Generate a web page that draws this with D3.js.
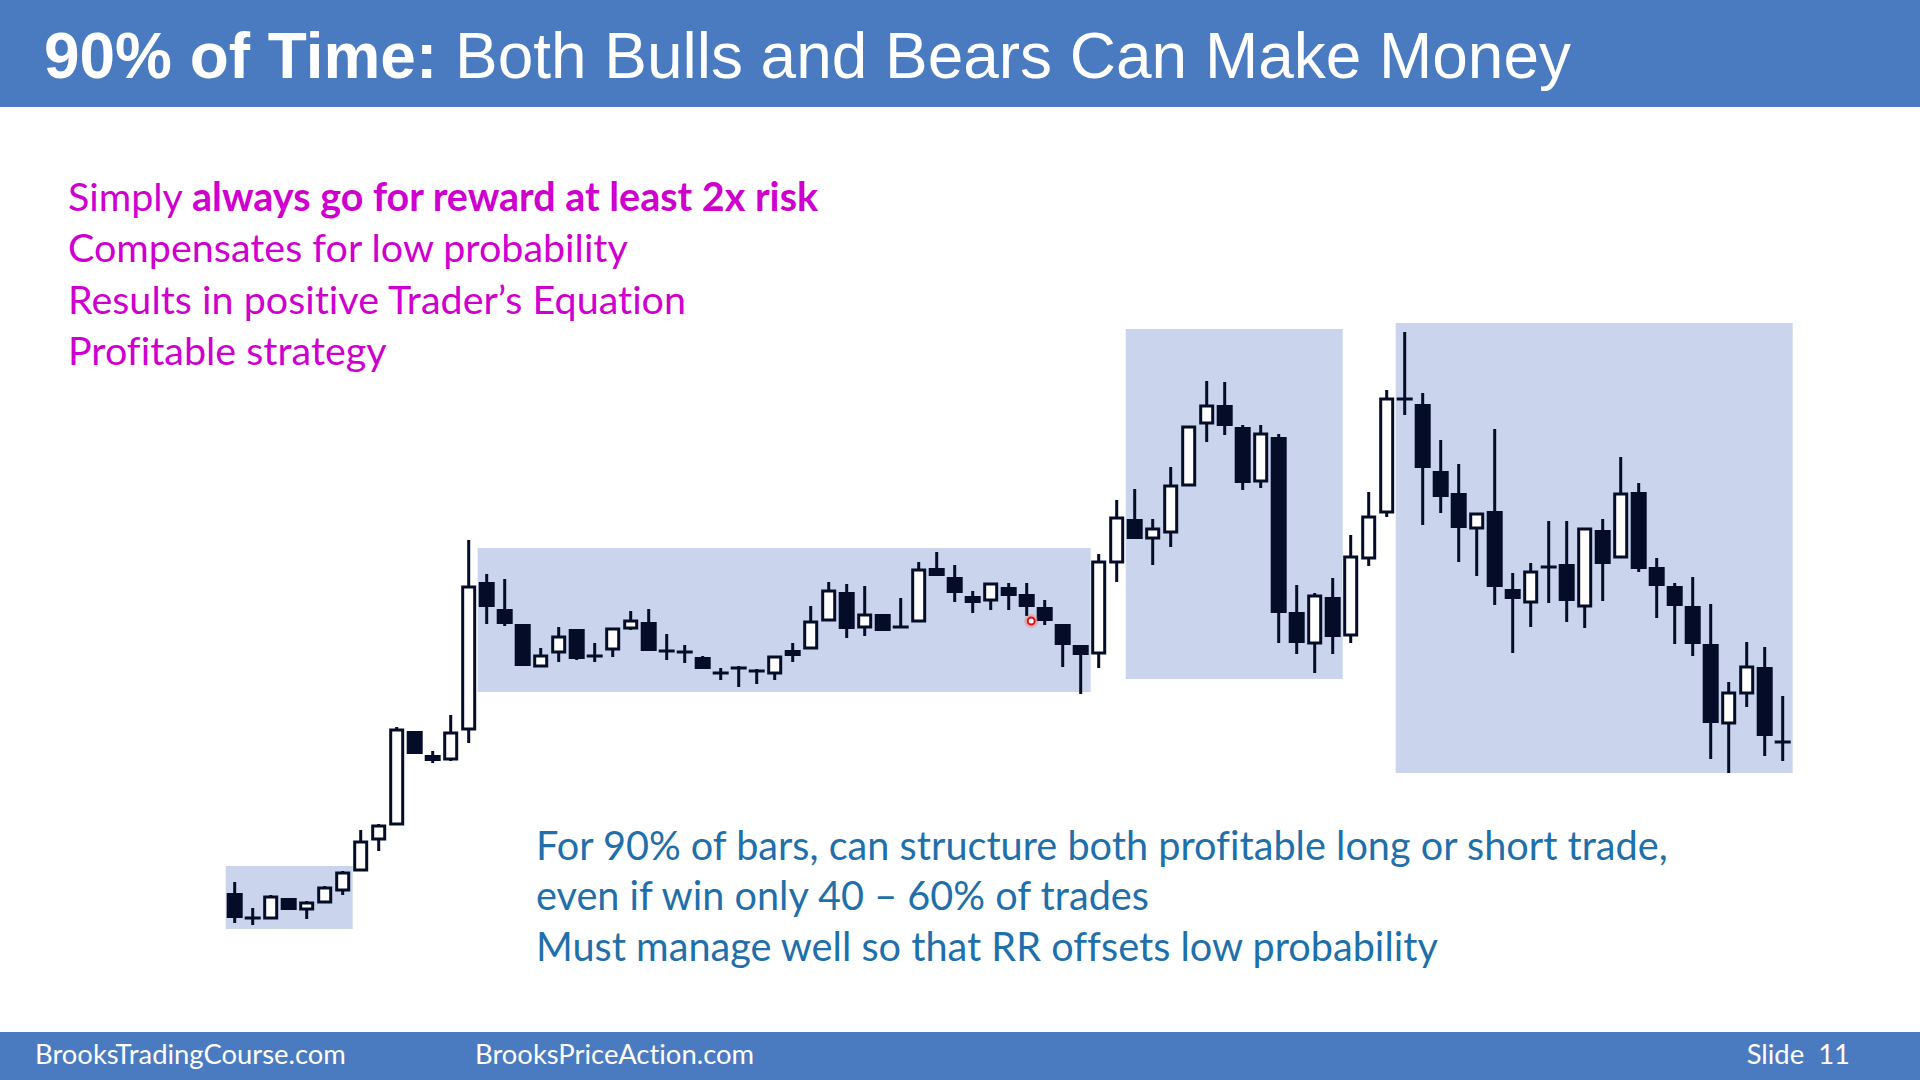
<!DOCTYPE html>
<html>
<head>
<meta charset="utf-8">
<script src="https://cdn.jsdelivr.net/npm/d3@7"></script>
<style>
  html, body { margin: 0; padding: 0; background: #ffffff; }
  svg { display: block; }
  text { font-variant-ligatures: none; font-feature-settings: "liga" 0; }
</style>
</head>
<body>
<svg id="chart" width="1920" height="1080"></svg>
<script>
// ---------- DATA ----------
const titleBold = "90% of Time:";
const titleRest = " Both Bulls and Bears Can Make Money";
const pinkLines = [
  ["Simply ", "always go for reward at least 2x risk"],
  ["Compensates for low probability", ""],
  ["Results in positive Trader\u2019s Equation", ""],
  ["Profitable strategy", ""]
];
const blueLines = [
  "For 90% of bars, can structure both profitable long or short trade,",
  "even if win only 40 \u2013 60% of trades",
  "Must manage well so that RR offsets low probability"
];
const footerLeft = "BrooksTradingCourse.com";
const footerMid = "BrooksPriceAction.com";
const footerRight = "Slide  11";

// bar OHLC values (price units)
const opens  = [107,82,82,102,91,98,110,130,161,176,269,245,241,271,418,391,376,334,348,371,344,351,372,378,349,348,343,327,332,329,327,350,352,380,408,373,386,373,379,432,423,404,400,413,406,393,376,355,347,438,481,462,468,515,577,595,573,519,563,388,357,403,365,442,488,601,596,529,507,472,489,411,398,433,436,394,470,443,508,433,414,394,356,277,307,333,258];
const highs  = [118,92,105,102,99,114,129,170,176,273,269,249,285,460,426,421,376,352,373,371,357,371,389,391,366,355,344,332,334,331,343,357,394,418,416,414,386,402,438,448,435,409,416,417,417,400,376,355,446,500,511,481,533,573,619,618,575,575,566,415,407,422,465,508,610,668,607,560,536,486,571,427,437,479,479,471,481,543,517,442,417,423,396,318,358,353,304];
const lows   = [77,75,82,90,81,98,105,130,149,176,246,237,239,257,376,374,334,334,338,340,338,343,370,349,340,337,331,320,313,316,320,338,352,380,362,364,369,373,379,424,398,387,390,390,384,375,333,306,332,418,461,435,453,515,558,565,510,512,357,346,327,346,357,434,483,585,475,487,438,424,395,347,373,397,378,372,399,442,428,382,356,344,241,227,293,244,239];
const closes = [82,82,103,90,97,112,127,158,174,270,246,239,267,413,393,376,334,344,363,341,344,371,379,349,349,348,331,327,332,329,343,344,378,409,371,385,369,373,430,424,407,397,416,404,393,379,355,345,438,482,461,471,514,573,594,574,517,566,387,357,404,363,443,483,601,601,532,503,472,486,413,401,428,433,399,471,436,506,431,414,394,356,277,307,333,264,258];

// shaded zones: [first bar, last bar, top price, bottom price]
const zoneStart = [0, 14, 50, 65];
const zoneEnd   = [6, 47, 61, 86];
const zoneTop   = [134, 452, 671, 677];
const zoneBot   = [71, 308, 321, 227];

// presenter cursor mark: [bar index, price]
const cursorBar = 44;
const cursorPrice = 379;

// ---------- STYLE ----------
const headerBlue = "#4a7bc1";
const zoneFill = "#cad4ec";
const ink = "#050c28";
const pink = "#cf00cf";
const textBlue = "#1f6fab";

const svg = d3.select("#chart");

// header & footer bands
svg.append("rect").attr("x", 0).attr("y", 0).attr("width", 1920).attr("height", 107).attr("fill", headerBlue);
svg.append("rect").attr("x", 0).attr("y", 1032).attr("width", 1920).attr("height", 48).attr("fill", headerBlue);

// title
const title = svg.append("text")
  .attr("x", 44).attr("y", 78)
  .attr("font-family", "'Liberation Sans', Arial, sans-serif")
  .attr("font-size", 64).attr("fill", "#ffffff");
title.append("tspan").attr("font-weight", "bold").text(titleBold);
title.append("tspan").text(titleRest);

function fitWidth(sel, target) {
  const w = sel.node().getComputedTextLength();
  const fs = parseFloat(sel.attr("font-size"));
  sel.attr("font-size", fs * target / w);
}
fitWidth(title, 1527);

// scales
const n = opens.length;
const bars = d3.range(n).map(i => ({i, o: opens[i], h: highs[i], l: lows[i], c: closes[i]}));
const x = d3.scaleBand().domain(d3.range(n)).range([225.7, 1791.7]).paddingInner(0.111).paddingOuter(0.0555);
const y = d3.scaleLinear().domain([65, 685]).range([935, 315]);
const bw = x.bandwidth();

// zones
const zones = zoneStart.map((s, k) => ({s, e: zoneEnd[k], t: zoneTop[k], b: zoneBot[k]}));
svg.append("g").selectAll("rect").data(zones).join("rect")
  .attr("x", d => x(d.s) - 1)
  .attr("width", d => x(d.e) + bw + 2 - (x(d.s) - 1))
  .attr("y", d => y(d.t))
  .attr("height", d => y(d.b) - y(d.t))
  .attr("fill", zoneFill);

// candles
const g = svg.append("g");
g.selectAll("line.wick").data(bars).join("line")
  .attr("class", "wick")
  .attr("x1", d => x(d.i) + bw / 2).attr("x2", d => x(d.i) + bw / 2)
  .attr("y1", d => y(d.h)).attr("y2", d => y(d.l))
  .attr("stroke", ink).attr("stroke-width", 3);

const bodyTop = d => y(Math.max(d.o, d.c));
const bodyH = d => Math.max(3, Math.abs(y(d.o) - y(d.c)));

// bear / doji bodies
g.selectAll("rect.bear").data(bars.filter(d => d.c <= d.o)).join("rect")
  .attr("class", "bear")
  .attr("x", d => x(d.i)).attr("width", bw)
  .attr("y", d => d.o === d.c ? y(d.o) - 1.5 : bodyTop(d))
  .attr("height", bodyH)
  .attr("fill", ink);

// bull bodies
g.selectAll("rect.bull").data(bars.filter(d => d.c > d.o)).join("rect")
  .attr("class", "bull")
  .attr("x", d => x(d.i) + 2).attr("width", bw - 4)
  .attr("y", bodyTop).attr("height", bodyH)
  .attr("fill", "#ffffff").attr("stroke", ink).attr("stroke-width", 3);

// cursor mark
const cx = x(cursorBar) + bw / 2 + x.step() * 0.25;
svg.append("circle").attr("cx", cx).attr("cy", y(cursorPrice)).attr("r", 7)
  .attr("fill", "#ff6b6b").attr("opacity", 0.35);
svg.append("circle").attr("cx", cx).attr("cy", y(cursorPrice)).attr("r", 3.5)
  .attr("fill", "#ffffff").attr("stroke", "#e01010").attr("stroke-width", 2);

// pink bullet text
const pinkBase = [210.5, 262, 313.5, 365];
const pinkFont = "Lato, 'Open Sans', sans-serif";
const pinkTexts = svg.append("g").selectAll("text").data(pinkLines).join("text")
  .attr("x", 68).attr("y", (d, k) => pinkBase[k])
  .attr("font-family", pinkFont).attr("font-size", 38).attr("fill", pink);
pinkTexts.append("tspan").text(d => d[0]);
pinkTexts.append("tspan").attr("font-weight", "bold").text(d => d[1]);
{
  const ref = pinkTexts.filter((d, k) => k === 1);
  const w = ref.node().getComputedTextLength();
  pinkTexts.attr("font-size", 38 * 560 / w);
}

// blue text
const blueBase = [860, 910, 961];
const blueTexts = svg.append("g").selectAll("text").data(blueLines).join("text")
  .attr("x", 536).attr("y", (d, k) => blueBase[k])
  .attr("font-family", pinkFont).attr("font-size", 38).attr("fill", textBlue)
  .text(d => d);
{
  const w = blueTexts.filter((d, k) => k === 0).node().getComputedTextLength();
  blueTexts.attr("font-size", 38 * 1132 / w);
}

// footer
const footFont = "Lato, 'Open Sans', sans-serif";
const f1 = svg.append("text").attr("x", 35).attr("y", 1064).attr("font-family", footFont)
  .attr("font-size", 24).attr("fill", "#ffffff").text(footerLeft);
fitWidth(f1, 311);
const fsFoot = parseFloat(f1.attr("font-size"));
svg.append("text").attr("x", 475).attr("y", 1064).attr("font-family", footFont)
  .attr("font-size", fsFoot).attr("fill", "#ffffff").text(footerMid);
svg.append("text").attr("x", 1850).attr("y", 1064).attr("text-anchor", "end").attr("font-family", footFont)
  .attr("font-size", fsFoot).attr("fill", "#ffffff").attr("xml:space", "preserve").text(footerRight);
</script>
</body>
</html>
